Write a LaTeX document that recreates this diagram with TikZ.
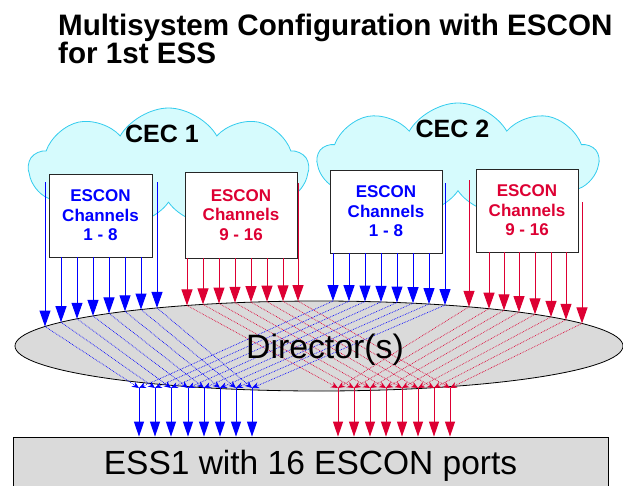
\documentclass[tikz,border=0pt]{standalone}
\usepackage{fontspec}
\setmainfont{Liberation Sans}
\usepackage{tikz}
\usetikzlibrary{arrows.meta, shapes.symbols, shapes.geometric}
\definecolor{escblue}{RGB}{0,0,255}
\definecolor{escred}{RGB}{221,0,51}
\definecolor{cloudfill}{RGB}{214,251,253}
\definecolor{cloudline}{RGB}{51,204,238}
\definecolor{dirgray}{RGB}{218,218,218}

\begin{document}
\begin{tikzpicture}[x=1pt, y=-1pt,
    titletext/.style={font=\fontsize{29.6}{28}\selectfont\bfseries, align=left, inner sep=0pt, anchor=north west},
    ceccloud/.style={cloud, cloud puffs=9, cloud puff arc=120, cloud ignores aspect, draw=cloudline, fill=cloudfill, line width=0.8pt, inner sep=0pt},
    cectext/.style={font=\fontsize{25}{28}\selectfont\bfseries},
    chanbox/.style={draw=black!85, fill=white, line width=0.9pt, inner sep=0pt, align=center, font=\fontsize{17}{19.5}\selectfont\bfseries},
    director/.style={ellipse, draw=black, fill=dirgray, line width=0.8pt, inner sep=0pt, minimum width=608pt, minimum height=90pt},
    essbox/.style={draw=black, fill=dirgray, line width=0.8pt, minimum width=595pt, minimum height=50pt, text height=24.5pt, text depth=0pt},
    bigtext/.style={font=\fontsize{33.8}{36}\selectfont},
    chan/.style={line width=1pt, -{Triangle[width=11pt,length=16pt]}},
    link/.style={line width=0.7pt, densely dotted, -{Stealth[width=6pt,length=7pt]}},
    port/.style={line width=1pt, -{Triangle[width=10pt,length=15pt]}},
]
    \useasboundingbox (0,0) rectangle (623,485);
    \clip (0,0) rectangle (623,485);

    % Title
    \node[titletext] (title) at (58,14) {Multisystem Configuration with ESCON\\for 1st ESS};

    % The two CECs
    \node[ceccloud, minimum width=279pt, minimum height=120pt] (cloud1) at (168.5,168) {};
    \node[ceccloud, minimum width=280pt, minimum height=114pt] (cloud2) at (458,160) {};
    \node[cectext] (cec1) at (162,134) {CEC 1};
    \node[cectext] (cec2) at (452.5,128.5) {CEC 2};

    % Channel boxes
    \node[chanbox, text=escblue, minimum width=103pt, minimum height=83pt] (box1) at (100.5,215.5) {ESCON\\Channels\\1 - 8};
    \node[chanbox, text=escred, minimum width=112pt, minimum height=86pt] (box2) at (241,215) {ESCON\\Channels\\9 - 16};
    \node[chanbox, text=escblue, minimum width=112pt, minimum height=83pt] (box3) at (386,211.5) {ESCON\\Channels\\1 - 8};
    \node[chanbox, text=escred, minimum width=102pt, minimum height=83pt] (box4) at (527,210.5) {ESCON\\Channels\\9 - 16};

    % Director and ESS
    \node[director] (dir) at (319,346) {};
    \node[essbox] (ess) at (310.5,462) {\fontsize{33.5}{36}\selectfont ESS1 with 16 ESCON ports};

    % Port coordinates below the director
    \foreach \x [count=\i] in {139,155,171,188,204,220,236,252}
        \coordinate (pb\i) at (\x,388);
    \foreach \x [count=\i] in {338,354,370,386,402,418,434,450}
        \coordinate (pr\i) at (\x,388);

    % Channels down to the director, dotted through it to the ports
    \foreach \x/\ys/\col/\p [count=\i] in {
        45/182/escblue/pb1, 61/257/escblue/pb2, 77/257/escblue/pb3, 93/257/escblue/pb4,
        109/257/escblue/pb5, 125/257/escblue/pb6, 141/257/escblue/pb7, 157/182/escblue/pb8,
        187/258/escred/pr1, 203/258/escred/pr2, 219/258/escred/pr3, 235/258/escred/pr4,
        251/258/escred/pr5, 267/258/escred/pr6, 283/258/escred/pr7, 298/183/escred/pr8,
        333/253/escblue/pb1, 349/253/escblue/pb2, 365/253/escblue/pb3, 381/253/escblue/pb4,
        397/253/escblue/pb5, 413/253/escblue/pb6, 429/253/escblue/pb7, 445/183/escblue/pb8,
        469/180/escred/pr1, 489/252/escred/pr2, 504/252/escred/pr3, 519/252/escred/pr4,
        535/252/escred/pr5, 551/252/escred/pr6, 566/252/escred/pr7, 582/202/escred/pr8} {
        \pgfmathsetmacro\yt{346-45*sqrt(1-((\x-319)/304)^2)}
        \coordinate (s\i) at (\x,\ys);
        \coordinate (t\i) at (\x,\yt);
        \draw[link, \col] (t\i) -- (\p);
        \draw[chan, \col] (s\i) -- (t\i);
    }

    \node[bigtext] (dirtext) at (325,350) {Director(s)};

    % Ports down to the ESS
    \foreach \i in {1,...,8} {
        \draw[port, escblue] (pb\i) -- (pb\i |- ess.north);
        \draw[port, escred] (pr\i) -- (pr\i |- ess.north);
    }

\end{tikzpicture}
\end{document}
